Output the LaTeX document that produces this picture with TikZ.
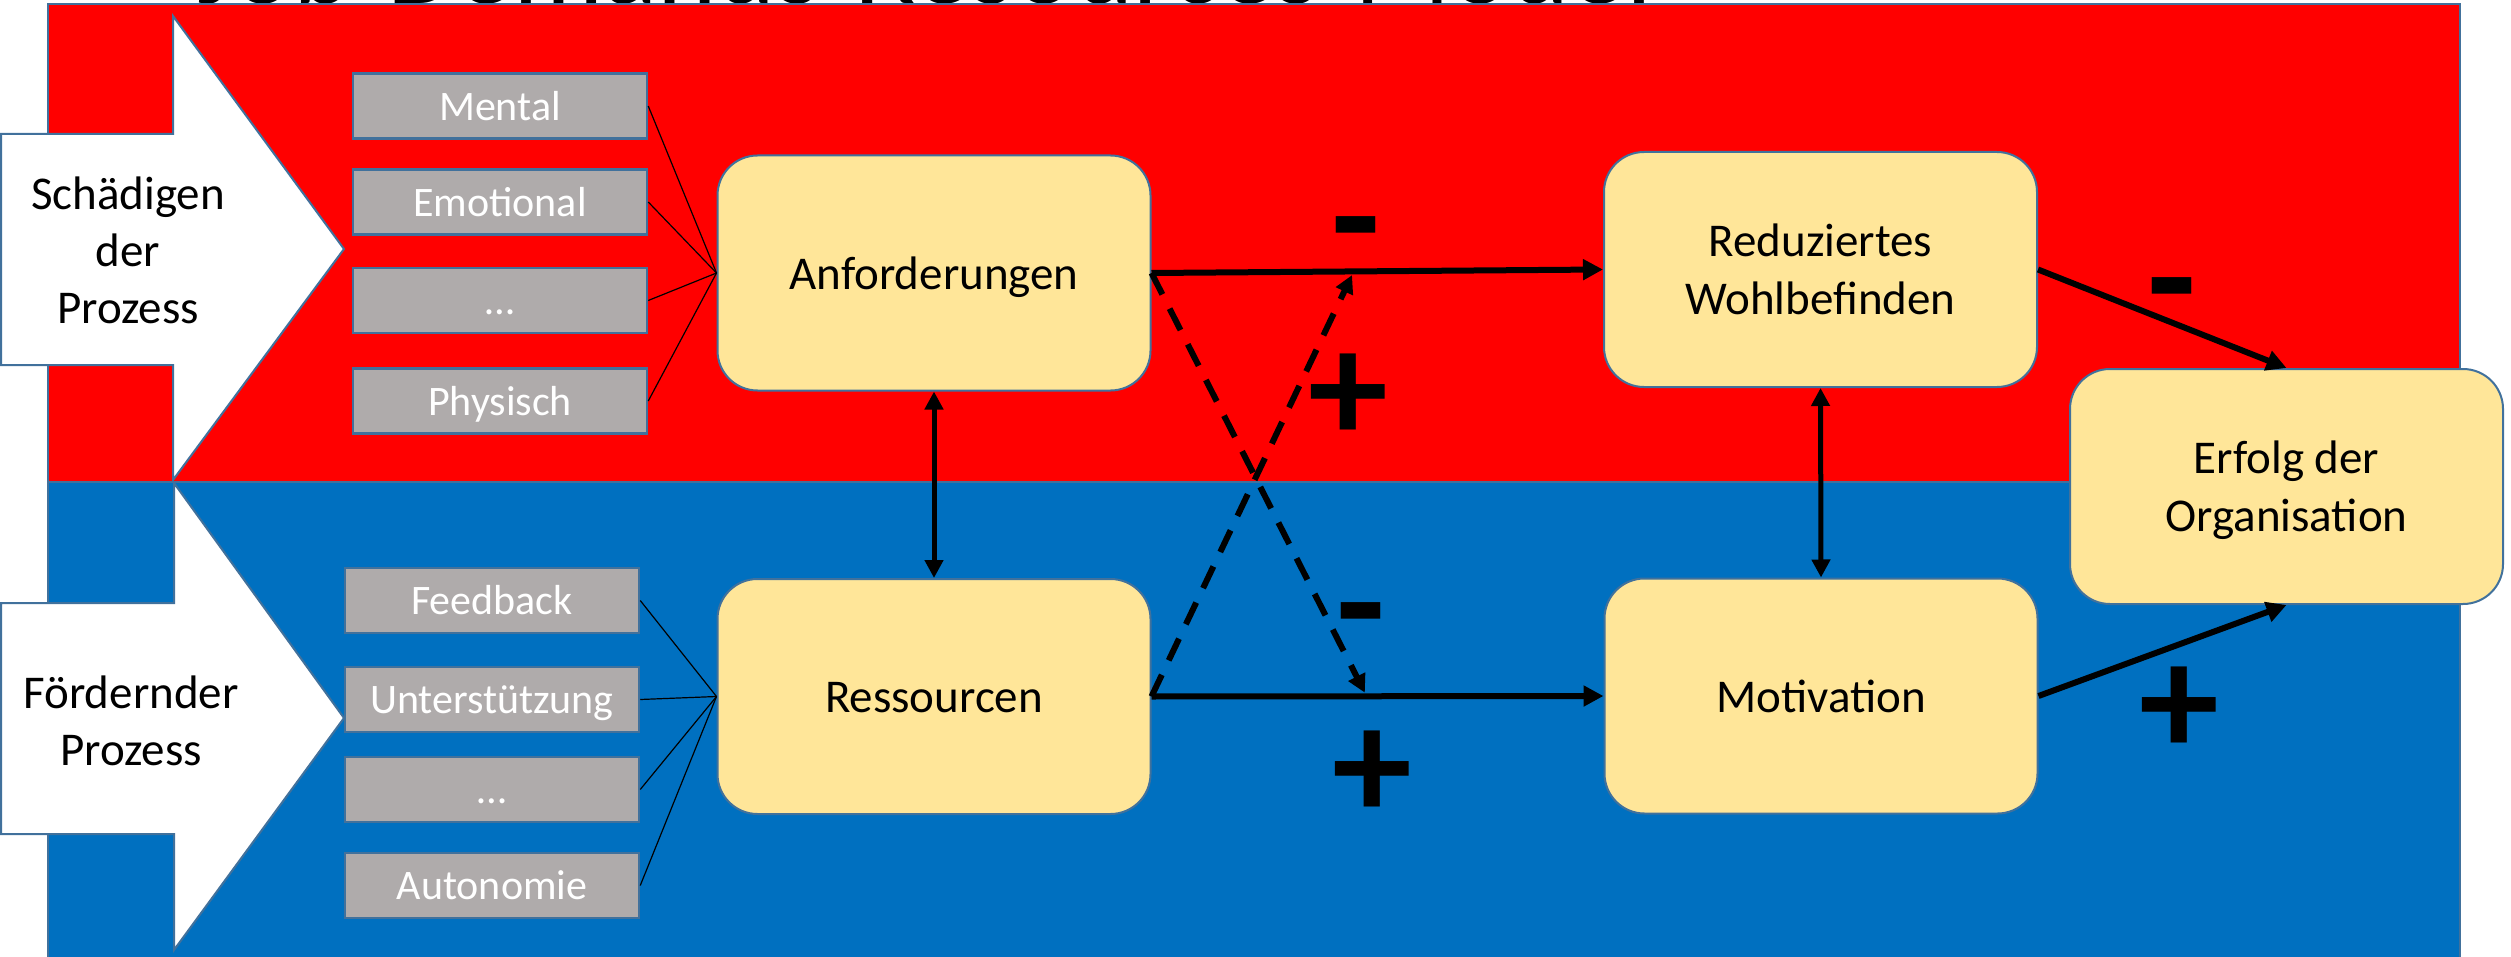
\documentclass[tikz,border=0pt]{standalone}
\usepackage{fontspec}
\setmainfont{Carlito}
\usetikzlibrary{arrows.meta,calc}
\definecolor{panelred}{HTML}{FF0000}
\definecolor{panelblue}{HTML}{0070C0}
\definecolor{edgeblue}{HTML}{41719C}
\definecolor{grayfill}{HTML}{AFABAB}
\definecolor{yellowfill}{HTML}{FFE699}
\newcommand{\pptstrut}{\rule[-0.26em]{0pt}{1.21em}}
\begin{document}
\begin{tikzpicture}[x=0.5pt,y=-0.5pt,
  ybox/.style={draw=edgeblue, line width=1pt, fill=yellowfill, rounded corners=20pt,
    minimum width=216.5pt, minimum height=117.5pt, align=center, inner sep=0pt,
    font=\fontsize{23.5}{29}\selectfont},
  gbox/.style={draw=edgeblue, line width=1.25pt, fill=grayfill, text=white,
    minimum width=147pt, minimum height=32.5pt, inner sep=0pt,
    font=\fontsize{21}{25}\selectfont},
  bigarrow/.style={draw=edgeblue, line width=1pt, fill=white},
  panel/.style={draw=edgeblue, line width=1.25pt},
  arrowtext/.style={align=center, inner sep=0pt, font=\fontsize{23.5}{28.5}\selectfont},
  feedline/.style={line width=0.6pt, black},
  mainarrow/.style={line width=3pt, -{Triangle[length=10pt,width=10pt]}},
  twoway/.style={line width=2.5pt, {Triangle[length=9pt,width=9pt]}-{Triangle[length=9pt,width=9pt]}},
  dasharrow/.style={line width=3pt, dash pattern=on 12pt off 8pt, shorten >=2pt,
    -{Triangle[length=9pt,width=9pt]}},
  signtext/.style={inner sep=0pt, font=\fontsize{80}{80}\selectfont\bfseries}
]
\useasboundingbox (0,0) rectangle (2511,957);
\clip (0,0) rectangle (2511,957);

% title (mostly cut off, as in the reference)
\node[anchor=base, inner sep=0pt, font=\fontsize{56.5}{60}\selectfont] (title) at (925,4) {Job-Demands-Resources-Model};

% panels
\fill[panelred] (48,4) rectangle (2460,482);
\draw[panel] (48,4) rectangle (2460,482);
\fill[panelblue] (48,482) rectangle (2460,970);
\draw[panel] (48,482) rectangle (2460,970);

% big left arrows
\draw[bigarrow] (1,134) -- (173,134) -- (173,16) -- (344,249) -- (173,480) -- (173,365) -- (1,365) -- cycle;
\draw[bigarrow] (1,603) -- (174,603) -- (174,483) -- (344,718) -- (174,950) -- (174,834) -- (1,834) -- cycle;
\node[arrowtext] (harm) at (128,250) {\pptstrut Schädigen\\\pptstrut der\\\pptstrut Prozess};
\node[arrowtext] (help) at (131,721) {\pptstrut Fördernder\\\pptstrut Prozess};

% gray boxes
\node[gbox] (g1) at (500,106) {\pptstrut Mental};
\node[gbox] (g2) at (500,202) {\pptstrut Emotional};
\node[gbox] (g3) at (500,300.5) {\pptstrut …};
\node[gbox] (g4) at (500,401) {\pptstrut Physisch};
\node[gbox] (h1) at (492,600.5) {\pptstrut Feedback};
\node[gbox] (h2) at (492,699.5) {\pptstrut Unterstützung};
\node[gbox] (h3) at (492,789.5) {\pptstrut …};
\node[gbox] (h4) at (492,885.5) {\pptstrut Autonomie};

% yellow boxes
\node[ybox] (anf) at (934,273) {\pptstrut Anforderungen};
\node[ybox] (res) at (934,696.5) {\pptstrut Ressourcen};
\node[ybox] (red) at (1820.5,269.5) {\pptstrut Reduziertes\\\pptstrut Wohlbefinden};
\node[ybox] (mot) at (1821,696) {\pptstrut Motivation};
\node[ybox] (erf) at (2286.5,486.5) {\pptstrut Erfolg der\\\pptstrut Organisation};

% feeder lines
\foreach \g in {g1,g2,g3,g4} \draw[feedline] (\g.east) -- (anf.west);
\foreach \h in {h1,h2,h3,h4} \draw[feedline] (\h.east) -- (res.west);

% connectors
\draw[mainarrow] (anf.east) -- (red.west);
\draw[mainarrow] (res.east) -- (mot.west);
\draw[mainarrow] (red.east) -- (erf.north);
\draw[mainarrow] (mot.east) -- (erf.south);
\draw[twoway] (anf.south) -- (res.north);
\draw[twoway] (red.south) -- (mot.north);
\coordinate (x1) at ($(res.east)!0.476!(mot.west)$);
\coordinate (x2) at ($(anf.east)!0.448!(red.west)$);
\draw[dasharrow] (anf.east) -- (x1);
\draw[dasharrow] (res.east) -- (x2);

% signs
\node[signtext] (m1) at (1356,244) {-};
\node[signtext] (p1) at (1348,398) {+};
\node[signtext] (m2) at (1361,630) {-};
\node[signtext] (p2) at (1372,775) {+};
\node[signtext] (m3) at (2172,305) {-};
\node[signtext] (p3) at (2179,711) {+};
\end{tikzpicture}
\end{document}
